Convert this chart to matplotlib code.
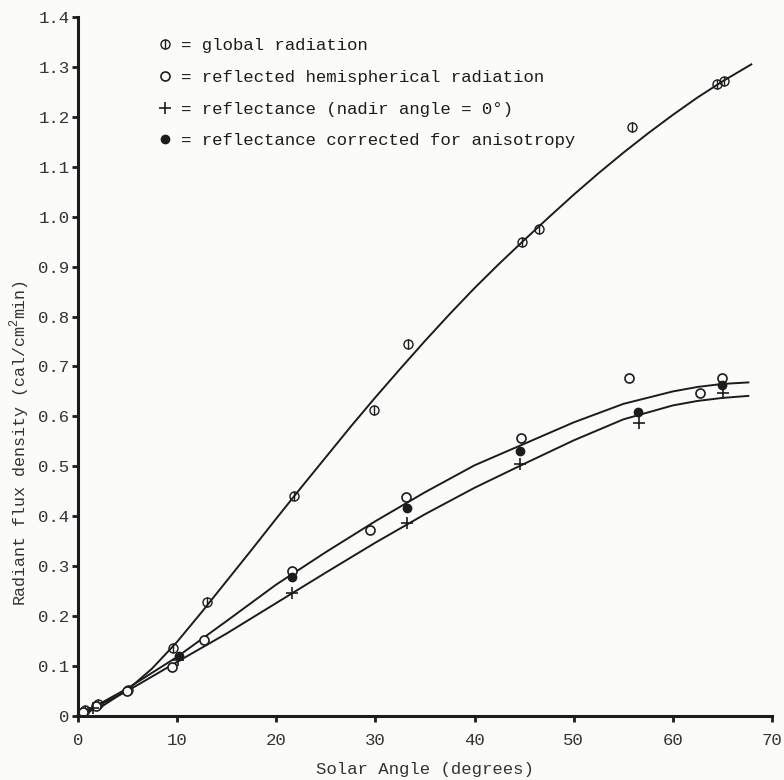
import numpy as np
import matplotlib.pyplot as plt
from matplotlib.lines import Line2D

plt.rcParams['font.family'] = ['Liberation Mono', 'DejaVu Sans Mono']
plt.rcParams['mathtext.fontset'] = 'custom'
plt.rcParams['mathtext.rm'] = 'Liberation Mono'

# measured points (solar angle in degrees, flux in cal/cm2 min)
glob_x = [0.7, 2.0, 5.1, 9.6, 13.0, 21.8, 29.9, 33.3, 44.8, 46.5, 55.9, 64.4, 65.1]
glob_y = [0.012, 0.023, 0.052, 0.136, 0.229, 0.441, 0.612, 0.745, 0.950, 0.975, 1.180, 1.266, 1.271]

hemi_x = [0.5, 1.8, 5.0, 9.5, 12.7, 21.6, 29.5, 33.1, 44.7, 55.6, 62.7, 64.9]
hemi_y = [0.008, 0.020, 0.050, 0.099, 0.152, 0.290, 0.373, 0.439, 0.557, 0.676, 0.646, 0.676]

refl_x = [1.5, 10.1, 21.6, 33.2, 44.6, 56.6, 65.0]
refl_y = [0.015, 0.113, 0.247, 0.387, 0.505, 0.586, 0.646]

corr_x = [10.2, 21.6, 33.2, 44.6, 56.5, 64.9]
corr_y = [0.120, 0.278, 0.416, 0.531, 0.608, 0.663]

# hand-drawn curves
glob_cx = [0, 2.5, 5, 7.5, 10, 12.5, 15, 17.5, 20, 22.5, 25, 27.5, 30, 32.5, 35,
           37.5, 40, 42.5, 45, 47.5, 50, 52.5, 55, 57.5, 60, 62.5, 65, 67.9]
glob_cy = [0, 0.020, 0.052, 0.095, 0.148, 0.208, 0.270, 0.332, 0.395, 0.457, 0.518,
           0.579, 0.638, 0.695, 0.751, 0.805, 0.857, 0.906, 0.953, 0.999, 1.044,
           1.087, 1.128, 1.167, 1.204, 1.239, 1.271, 1.305]

up_cx = [0, 5, 10, 15, 20, 25, 30, 35, 40, 45, 50, 55, 60, 62.5, 65, 67.6]
up_cy = [0, 0.055, 0.118, 0.190, 0.263, 0.328, 0.390, 0.448, 0.502, 0.545, 0.588,
         0.625, 0.650, 0.659, 0.665, 0.668]

lo_cx = [0, 5, 10, 15, 20, 25, 30, 35, 40, 45, 50, 55, 60, 62.5, 65, 67.6]
lo_cy = [0, 0.050, 0.108, 0.165, 0.226, 0.287, 0.347, 0.404, 0.457, 0.505, 0.552,
         0.594, 0.622, 0.631, 0.637, 0.641]

xticks = [0, 10, 20, 30, 40, 50, 60, 70]
yticks = [0, 0.1, 0.2, 0.3, 0.4, 0.5, 0.6, 0.7, 0.8, 0.9, 1.0, 1.1, 1.2, 1.3, 1.4]
ytick_labels = ['0'] + ['%.1f' % v for v in yticks[1:]]

ink = '#1c1c1c'
txt = '#333333'
bg = '#fbfbfa'

fig = plt.figure(figsize=(7.84, 7.80), dpi=100, facecolor=bg)
ax = fig.add_axes([0.0991, 0.0821, 0.8858, 0.8962], facecolor=bg)

ax.plot(glob_cx, glob_cy, color=ink, lw=1.4, clip_on=False)
ax.plot(up_cx, up_cy, color=ink, lw=1.4, clip_on=False)
ax.plot(lo_cx, lo_cy, color=ink, lw=1.4, clip_on=False)

ax.plot(glob_x, glob_y, 'o', ms=6.5, mfc='none', mec=ink, mew=1.0, clip_on=False)
ax.plot(glob_x, glob_y, '|', ms=6.5, mec=ink, mew=1.0, clip_on=False)
ax.plot(hemi_x, hemi_y, 'o', ms=6.5, mfc=bg, mec=ink, mew=1.2, clip_on=False)
ax.plot(refl_x, refl_y, '+', ms=9, mec=ink, mew=1.2, clip_on=False)
ax.plot(corr_x, corr_y, 'o', ms=6, mfc=ink, mec=ink, clip_on=False)

h_glob = (Line2D([], [], ls='', marker='o', ms=6.5, mfc='none', mec=ink, mew=1.0),
          Line2D([], [], ls='', marker='|', ms=6.5, mec=ink, mew=1.0))
h_hemi = Line2D([], [], ls='', marker='o', ms=6.5, mfc='none', mec=ink, mew=1.2)
h_refl = Line2D([], [], ls='', marker='+', ms=8, mec=ink, mew=1.2)
h_corr = Line2D([], [], ls='', marker='o', ms=6, mfc=ink, mec=ink)
ax.legend([h_glob, h_hemi, h_refl, h_corr],
          ['= global radiation', '= reflected hemispherical radiation',
           '= reflectance (nadir angle = 0°)', '= reflectance corrected for anisotropy'],
          loc='upper left', bbox_to_anchor=(0.093, 0.992), frameon=False,
          handlelength=0.8, handletextpad=0.55, labelspacing=0.95,
          prop={'family': 'Liberation Mono', 'size': 12.5}, labelcolor=ink)

ax.set_xlim(0, 70)
ax.set_ylim(0, 1.4)
ax.set_xticks(xticks)
ax.set_yticks(yticks)
ax.set_yticklabels(ytick_labels)
for s in ['top', 'right']:
    ax.spines[s].set_visible(False)
for s in ['left', 'bottom']:
    ax.spines[s].set_linewidth(2.2)
    ax.spines[s].set_color(ink)
ax.tick_params(axis='both', direction='out', length=4, width=2, color=ink,
               labelsize=12.5, labelcolor=txt)
ax.tick_params(axis='x', pad=8)
ax.tick_params(axis='y', pad=2)

ax.set_xlabel('Solar Angle (degrees)', fontsize=12.5, color=txt, labelpad=10)
ax.set_ylabel('Radiant flux density (cal/cm$^2$min)', fontsize=12, color=txt)
ax.yaxis.set_label_coords(-0.066, 0.39)

fig.savefig('out.png', dpi=100, facecolor=bg)
